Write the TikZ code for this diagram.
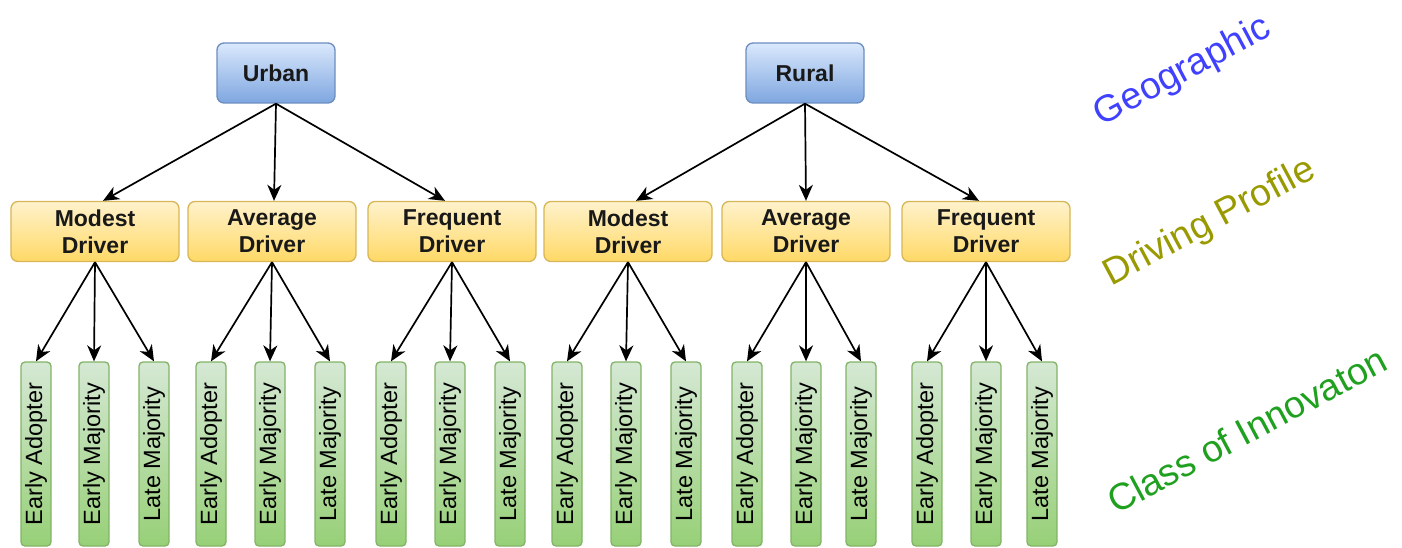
\documentclass[tikz,border=0pt]{standalone}
\usepackage{fontspec}
\usepackage{graphicx}
\setmainfont{Liberation Sans}
\usetikzlibrary{arrows.meta}
\definecolor{bluetop}{HTML}{DAE8FC}
\definecolor{bluebot}{HTML}{7EA6E0}
\definecolor{blueline}{HTML}{6C8EBF}
\definecolor{yeltop}{HTML}{FFF2CC}
\definecolor{yelbot}{HTML}{FFD966}
\definecolor{yelline}{HTML}{D6B656}
\definecolor{grntop}{HTML}{D5E8D4}
\definecolor{grnbot}{HTML}{97D077}
\definecolor{grnline}{HTML}{82B366}
\definecolor{geoblue}{HTML}{4040FF}
\definecolor{drvolive}{HTML}{999900}
\definecolor{clsgreen}{HTML}{1FA01F}
\tikzset{
  geobox/.style={draw=blueline, line width=1.3pt, top color=bluetop, bottom color=bluebot,
    rounded corners=7pt, minimum width=118pt, minimum height=60pt, inner sep=0pt,
    font=\fontsize{23}{27}\selectfont\bfseries, text=black!90},
  drvbox/.style={draw=yelline, line width=1.3pt, top color=yeltop, bottom color=yelbot,
    rounded corners=7pt, minimum width=168pt, minimum height=60pt, inner sep=0pt,
    align=center, font=\fontsize{23}{27}\selectfont\bfseries, text=black!90},
  clsbox/.style={draw=grnline, line width=1.3pt, top color=grntop, bottom color=grnbot,
    rounded corners=4pt, minimum width=30pt, minimum height=184pt, inner sep=0pt,
    font=\fontsize{23.5}{27}\selectfont},
  arr/.style={line width=1.7pt, -{Stealth[length=16pt,width=14pt,inset=5pt]}},
  sidelbl/.style={rotate=28, font=\fontsize{37.5}{40}\selectfont, inner sep=0pt}
}
\begin{document}
\begin{tikzpicture}[x=1pt,y=-1pt]
\useasboundingbox (0,0) rectangle (1402,548);
% level 1
\node[geobox] (u) at (276,73) {Urban};
\node[geobox] (r) at (805,73) {Rural};
% level 2
\node[drvbox] (m1) at (95,231.5) {Modest\\Driver};
\node[drvbox] (a1) at (272,231.5) {Average\\Driver};
\node[drvbox] (f1) at (452,231.5) {Frequent\\Driver};
\node[drvbox] (m2) at (628,231.5) {Modest\\Driver};
\node[drvbox] (a2) at (806,231.5) {Average\\Driver};
\node[drvbox] (f2) at (986,231.5) {Frequent\\Driver};
% level 3
\foreach \n/\xa/\xb/\xc in {m1/36/94/154, a1/211/270/330, f1/391/450/510,
                            m2/567/626/686, a2/747/806/861, f2/927/986/1042}{
  \node[clsbox] (\n ea) at (\xa,454) {\rotatebox{90}{Early Adopter}};
  \node[clsbox] (\n em) at (\xb,454) {\rotatebox{90}{Early Majority}};
  \node[clsbox] (\n lm) at (\xc,454) {\rotatebox{90}{Late Majority}};
  \draw[arr] (\n.south) -- (\n ea.north);
  \draw[arr] (\n.south) -- (\n em.north);
  \draw[arr] (\n.south) -- (\n lm.north);
}
% level 1 -> 2 arrows
\draw[arr] (u.south) -- ([xshift=8pt]m1.north);
\draw[arr] (u.south) -- ([xshift=2pt]a1.north);
\draw[arr] (u.south) -- ([xshift=-7pt]f1.north);
\draw[arr] (r.south) -- ([xshift=8pt]m2.north);
\draw[arr] (r.south) -- ([xshift=0pt]a2.north);
\draw[arr] (r.south) -- ([xshift=-7pt]f2.north);
% side labels
\node[sidelbl, text=geoblue] (lg) at (1183,72) {Geographic};
\node[sidelbl, text=drvolive] (ld) at (1210,223) {Driving Profile};
\node[sidelbl, text=clsgreen] (lc) at (1247,430) {Class of Innovaton};
\end{tikzpicture}
\end{document}
